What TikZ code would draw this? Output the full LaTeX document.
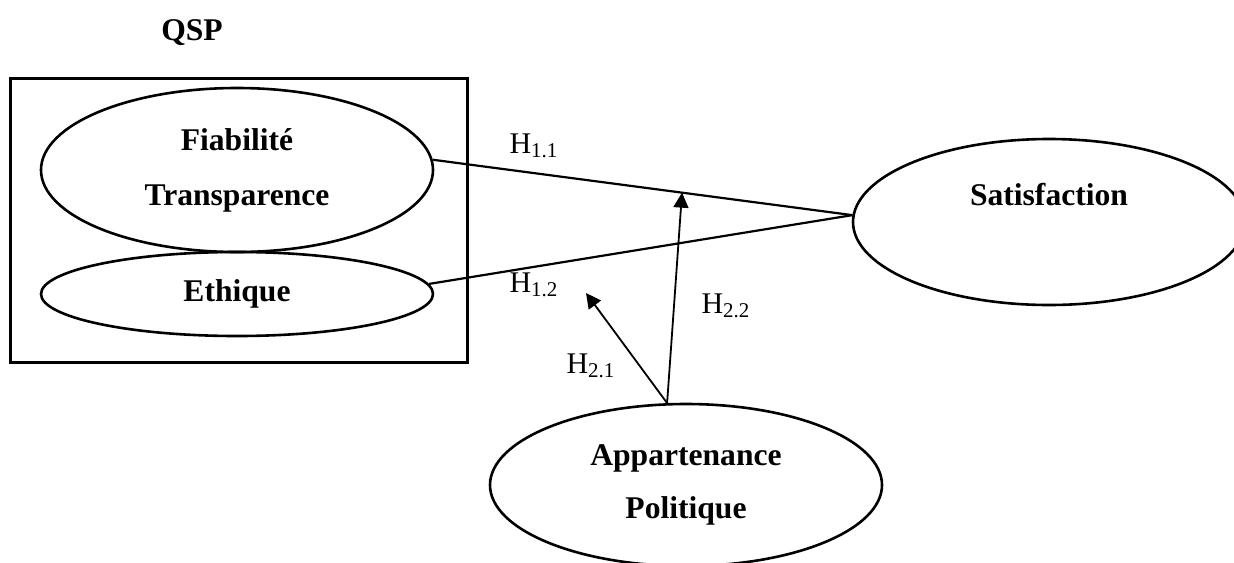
\documentclass[tikz,border=0pt]{standalone}
\usepackage{fontspec}
\setmainfont{Liberation Serif}
\usetikzlibrary{arrows.meta,shapes.geometric,calc}

\begin{document}
\begin{tikzpicture}[
  x=0.5pt, y=-0.5pt,
  >={Triangle[length=7.5pt,width=7.5pt]},
  construct/.style={ellipse, draw, line width=1.3pt, minimum width=196pt, inner sep=2pt, align=center,
                    font=\fontsize{15.8}{18.6}\selectfont\bfseries},
  group/.style={draw, line width=1.5pt, inner sep=0pt},
  title/.style={font=\fontsize{15.8}{18.6}\selectfont\bfseries},
  link/.style={line width=1.1pt},
  effect/.style={->, line width=0.9pt},
  hyp/.style={font=\fontsize{15}{18}\selectfont, inner sep=1pt},
]
\useasboundingbox (0,0) rectangle (1234,562);

% ------------------------------------------------------------------ QSP block
\node[title] (qsp) at (192,33) {QSP};
\node[group, minimum width=228.5pt, minimum height=142pt] (qspbox) at (238.5,220) {};
\node[construct, minimum height=82pt] (fiab) at (237,170) {Fiabilité\\[8.9pt] Transparence};
\node[construct, minimum height=42pt] (eth) at (237,294) {Ethique};

% ------------------------------------------------------------------ other constructs
\node[construct, minimum height=83pt,
      label={[title, yshift=13.5pt]center:Satisfaction}] (sat) at (1049,222) {};
\node[construct, minimum height=81pt] (app) at (686,485) {Appartenance\\[7.9pt] Politique};

% ------------------------------------------------------------------ direct effects
\draw[link] (fiab.3.5) -- coordinate[pos=0.594] (mod) (sat.178);
\draw[link] (eth.3) -- (sat.178);
\node[hyp] (h11) at (534,146) {H\textsubscript{1.1}};
\node[hyp] (h12) at (534,285) {H\textsubscript{1.2}};

% ------------------------------------------------------------------ moderation
\coordinate (ethtip) at (586,293);
\draw[effect] (app.103) -- (ethtip);
\draw[effect] (app.103) -- (mod);
\node[hyp] (h21) at (591,366) {H\textsubscript{2.1}};
\node[hyp] (h22) at (726,306) {H\textsubscript{2.2}};
\end{tikzpicture}
\end{document}
